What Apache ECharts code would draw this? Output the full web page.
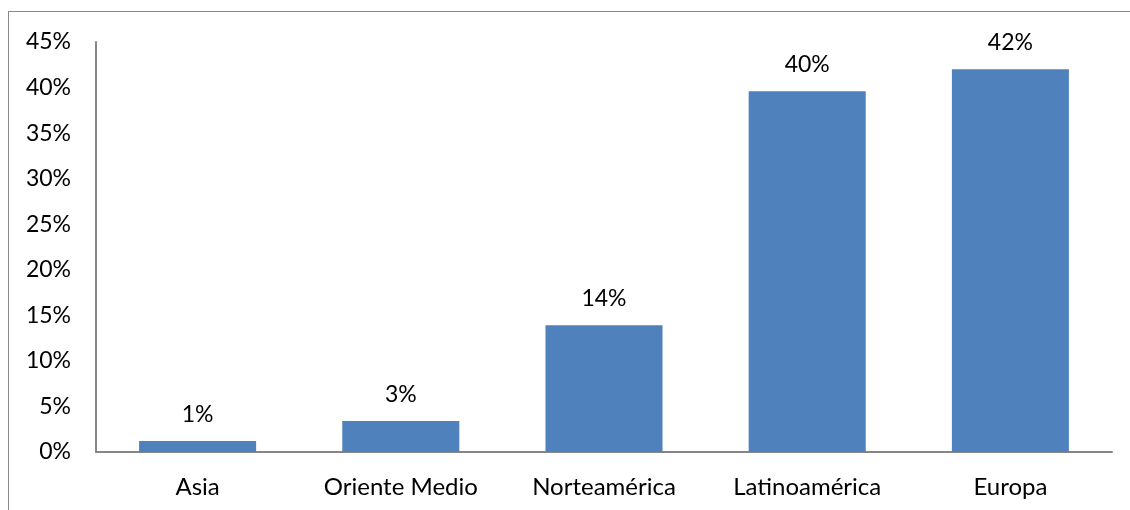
<!DOCTYPE html>
<html>
<head>
<meta charset="utf-8">
<script src="https://cdn.jsdelivr.net/npm/echarts@6/dist/echarts.min.js"></script>
<style>
  html, body { margin: 0; padding: 0; background: #fff; }
  #frame { position: absolute; left: 8px; top: 11px; width: 1140px; height: 520px; border: 1.5px solid #8a8a8a; box-sizing: border-box; }
  #chart { position: absolute; left: 0; top: 0; width: 1130px; height: 510px; }
</style>
</head>
<body>
<div id="frame"></div>
<div id="chart"></div>
<script>
// Regions and their share (%)
const categories = ['Asia', 'Oriente Medio', 'Norteamérica', 'Latinoamérica', 'Europa'];
const shares = [1.2, 3.4, 13.9, 39.6, 42.0];
const yTicks = { min: 0, max: 45, interval: 5 };

const FONT = 'Lato';
const chart = echarts.init(document.getElementById('chart'), null, { renderer: 'canvas' });

chart.setOption({
  backgroundColor: 'transparent',
  animation: false,
  grid: { left: 96, right: 18, top: 42, bottom: 58, containLabel: false },
  xAxis: {
    type: 'category',
    data: categories,
    axisLine: { show: true, lineStyle: { color: '#868686', width: 2 } },
    axisTick: { show: false },
    axisLabel: { color: '#000', fontFamily: FONT, fontSize: 24, margin: 23 }
  },
  yAxis: {
    type: 'value',
    min: yTicks.min,
    max: yTicks.max,
    interval: yTicks.interval,
    axisLine: { show: true, lineStyle: { color: '#868686', width: 2 } },
    axisTick: { show: false },
    splitLine: { show: false },
    axisLabel: {
      color: '#000', fontFamily: FONT, fontSize: 23, margin: 25,
      formatter: v => v + '%'
    }
  },
  series: [{
    type: 'bar',
    data: shares,
    barWidth: '57.6%',
    itemStyle: { color: '#4F81BD' },
    label: {
      show: true,
      position: 'top',
      distance: 15,
      color: '#000',
      fontFamily: FONT,
      fontSize: 23,
      formatter: p => Math.round(p.value) + '%'
    }
  }]
});
</script>
</body>
</html>
